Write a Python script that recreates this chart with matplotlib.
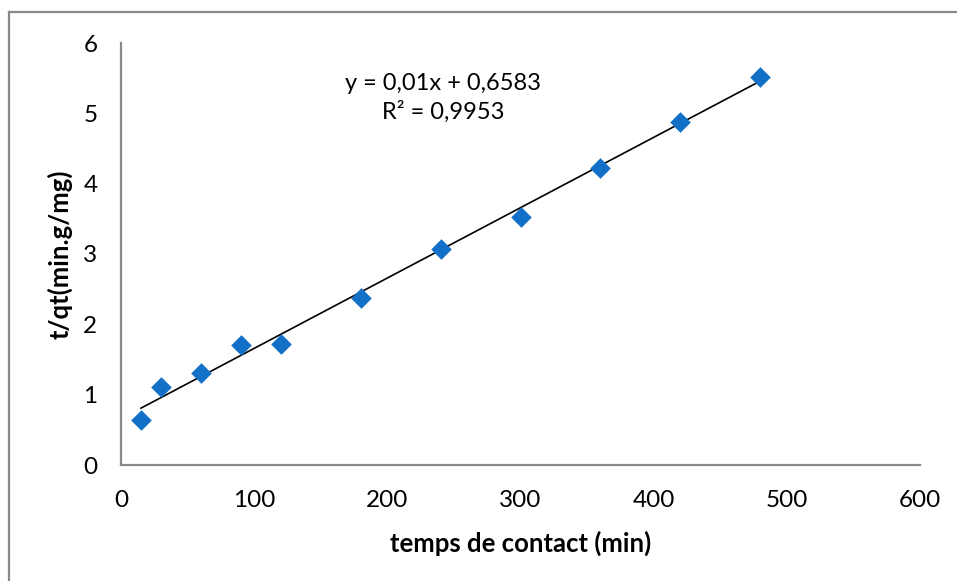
import matplotlib.pyplot as plt
from matplotlib.lines import Line2D

# temps de contact (min) et t/qt (min.g/mg)
temps = [15, 30, 60, 90, 120, 180, 240, 300, 360, 420, 480]
t_qt = [0.64, 1.11, 1.31, 1.71, 1.72, 2.38, 3.07, 3.53, 4.22, 4.88, 5.52]

pente = 0.01
ordonnee = 0.6583
r2 = "0,9953"

plt.rcParams['font.family'] = ['Lato', 'DejaVu Sans']

fig = plt.figure(figsize=(9.57, 5.81), dpi=100)
ax = fig.add_axes([121/957, 116/581, 799/957, 422/581])

ax.scatter(temps, t_qt, marker="D", s=10.5**2, color="#1270C6", zorder=3, linewidths=0)
x_fit = [temps[0], temps[-1]]
y_fit = [pente * x + ordonnee for x in x_fit]
ax.plot(x_fit, y_fit, color="black", lw=1.2, zorder=2)

ax.set_xlim(0, 600)
ax.set_ylim(0, 6)
ax.set_xticks(range(0, 601, 100))
ax.set_yticks(range(0, 7))
ax.tick_params(length=0, labelsize=17.5, colors="black")
ax.tick_params(axis="y", pad=17)
ax.tick_params(axis="x", pad=18)

for s in ["top", "right"]:
    ax.spines[s].set_visible(False)
for s in ["left", "bottom"]:
    ax.spines[s].set_color("#898989")
    ax.spines[s].set_linewidth(1.6)

ax.set_xlabel("temps de contact (min)", fontsize=18.5, fontweight="bold", labelpad=14)
ax.set_ylabel("t/qt(min.g/mg)", fontsize=18.5, fontweight="bold", labelpad=8)

ax.text(242, 5.22, "y = 0,01x + 0,6583\nR\u00b2 = " + r2, ha="center", va="center",
        fontsize=17, linespacing=1.35)

# outer chart border
fig.add_artist(Line2D([9/957, 9/957], [0, 1 - 12/581], color="#898989", lw=1.6))
fig.add_artist(Line2D([9/957, 1], [1 - 12/581, 1 - 12/581], color="#898989", lw=1.6))

fig.savefig("out.png", dpi=100)
